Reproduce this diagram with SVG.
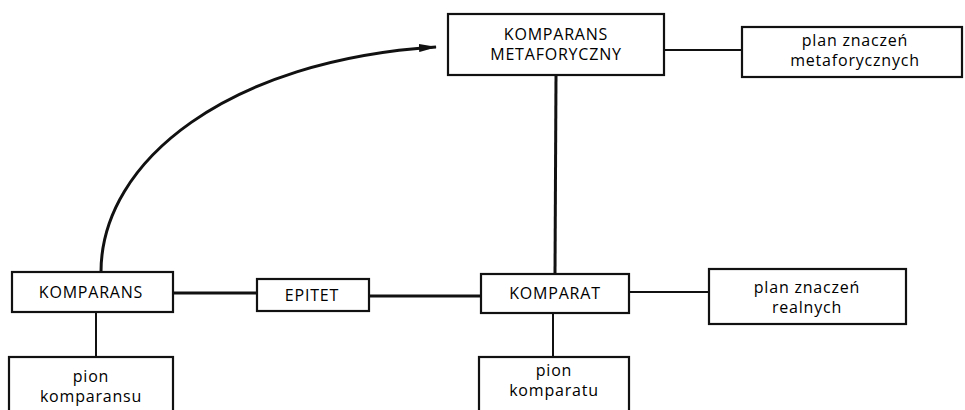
<svg xmlns="http://www.w3.org/2000/svg" width="965" height="410" viewBox="0 0 965 410">
<style>
.box{fill:#fff;stroke:#111;stroke-width:2.2}
.t{font-family:"Open Sans","Liberation Sans",sans-serif;font-size:16px;fill:#000;text-anchor:middle;letter-spacing:0.8px}
.thick{stroke:#111;stroke-width:3;fill:none}
.thin{stroke:#111;stroke-width:2;fill:none}
</style>
<defs>
<marker id="ah" viewBox="0 0 18 8" refX="17" refY="4" markerWidth="18" markerHeight="8" markerUnits="userSpaceOnUse" orient="auto">
<path d="M0,0 L18,4 L0,8 Z" fill="#111"/>
</marker>
</defs>
<rect width="965" height="410" fill="#fff"/>
<g id="connectors">
<path class="thick" d="M101,272 C101,160 230,60 436,47" marker-end="url(#ah)"/>
<line class="thin" x1="664" y1="50" x2="742" y2="50"/>
<line class="thick" x1="556" y1="75" x2="555" y2="274"/>
<line class="thick" x1="173" y1="293" x2="257" y2="293"/>
<line class="thick" x1="369" y1="296" x2="481" y2="296"/>
<line class="thin" x1="629" y1="292" x2="709" y2="292"/>
<line class="thin" x1="96" y1="312" x2="96" y2="357"/>
<line class="thin" x1="553" y1="313" x2="553" y2="357"/>
</g>
<g id="komparans-metaforyczny">
<rect class="box" x="448" y="14" width="216" height="61"/>
<text class="t" x="556" y="39.5">KOMPARANS</text>
<text class="t" x="556" y="59.5">METAFORYCZNY</text>
</g>
<g id="plan-metaforycznych">
<rect class="box" x="742" y="27" width="220" height="50"/>
<text class="t" x="855" y="46">plan znaczeń</text>
<text class="t" x="855" y="66">metaforycznych</text>
</g>
<g id="komparans">
<rect class="box" x="12" y="272" width="161" height="40"/>
<text class="t" x="91" y="298">KOMPARANS</text>
</g>
<g id="epitet">
<rect class="box" x="257" y="279" width="112" height="32"/>
<text class="t" x="312" y="301">EPITET</text>
</g>
<g id="komparat">
<rect class="box" x="481" y="274" width="148" height="39"/>
<text class="t" x="555" y="299">KOMPARAT</text>
</g>
<g id="plan-realnych">
<rect class="box" x="709" y="269" width="197" height="55"/>
<text class="t" x="807" y="293">plan znaczeń</text>
<text class="t" x="807" y="313">realnych</text>
</g>
<g id="pion-komparansu">
<rect class="box" x="9" y="357" width="164" height="60"/>
<text class="t" x="91" y="382">pion</text>
<text class="t" x="91" y="402">komparansu</text>
</g>
<g id="pion-komparatu">
<rect class="box" x="479" y="357" width="150" height="60"/>
<text class="t" x="554" y="376">pion</text>
<text class="t" x="554" y="396">komparatu</text>
</g>
</svg>
